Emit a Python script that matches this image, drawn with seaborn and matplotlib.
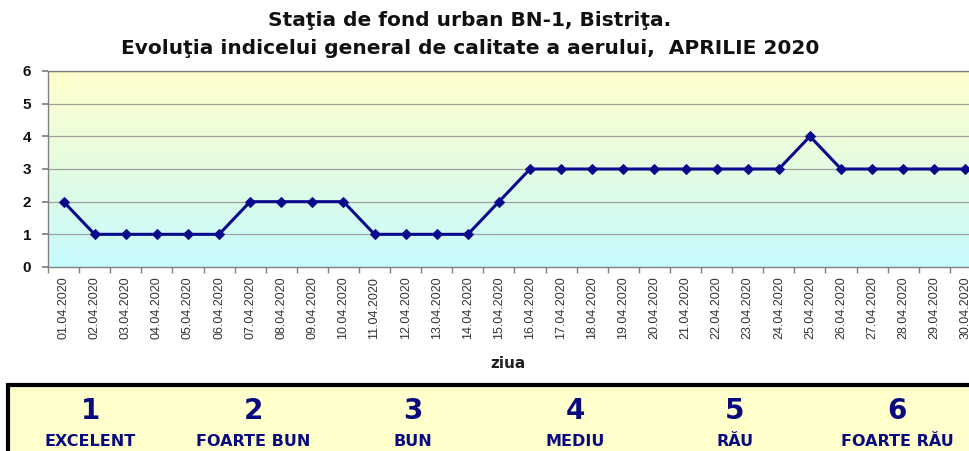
import numpy as np
import pandas as pd
import matplotlib
matplotlib.use("Agg")
import matplotlib.pyplot as plt
import seaborn as sns
from matplotlib.patches import Rectangle
from matplotlib.colors import LinearSegmentedColormap

sns.set_theme(style="white")
plt.rcParams['font.family'] = ['Liberation Sans', 'DejaVu Sans']

days = [f"{d:02d}.04.2020" for d in range(1, 31)]
values = [2, 1, 1, 1, 1, 1, 2, 2, 2, 2, 1, 1, 1, 1, 2, 3, 3, 3, 3, 3,
          3, 3, 3, 3, 4, 3, 3, 3, 3, 3]
y_ticks = [0, 1, 2, 3, 4, 5, 6]
legend_nums = ["1", "2", "3", "4", "5", "6"]
legend_labels = ["EXCELENT", "FOARTE BUN", "BUN", "MEDIU", "RĂU", "FOARTE RĂU"]

df = pd.DataFrame({"ziua": days, "indice": values})
df["pos"] = np.arange(len(days))

W, H = 969, 451
fig = plt.figure(figsize=(W / 100, H / 100), dpi=100)

# axes: left 48px, width 933px (extends beyond figure), top 71px, bottom 267px
ax = fig.add_axes([48 / W, 1 - 267 / H, 933 / W, (267 - 71) / H])

grad = np.linspace(0, 1, 256).reshape(-1, 1)
cmap = LinearSegmentedColormap.from_list("bg", ["#C6FBFF", "#E4FCE2", "#FFFFCC"])
ax.imshow(grad, aspect="auto", cmap=cmap, origin="lower",
          extent=[-0.5, 29.5, 0, 6], zorder=0)

for yv in y_ticks[1:]:
    ax.axhline(yv, color="#A0A0A0", lw=0.9, zorder=1)

sns.lineplot(data=df, x="pos", y="indice", ax=ax, color="#0A0A8C", lw=2.2,
             marker="D", markersize=5, markeredgecolor="#0A0A8C", zorder=3)

ax.set_xlim(-0.5, 29.5)
ax.set_ylim(0, 6)
ax.set_yticks(y_ticks)
ax.set_yticklabels([str(v) for v in y_ticks], fontsize=11, fontweight="bold",
                   color="#111111")
ax.set_xticks(df["pos"])
ax.set_xticklabels(days, rotation=90, fontsize=9, color="#333333")
ax.set_xticks(np.arange(-0.5, 30, 1), minor=True)
ax.tick_params(axis="x", which="major", length=0, pad=7)
ax.tick_params(axis="x", which="minor", length=4, color="#808080", direction="out", bottom=True)
ax.tick_params(axis="y", length=4, color="#808080", direction="out", left=True, pad=8)
ax.set_xlabel("ziua", fontsize=11, fontweight="bold", family="DejaVu Sans",
              va="center", color="#222222")
ax.xaxis.set_label_coords((508 - 48) / 933, -(363 - 267) / 196)
ax.set_ylabel("")
ax.spines["right"].set_visible(False)
for s in ["left", "bottom", "top"]:
    ax.spines[s].set_color("#808080")
    ax.spines[s].set_linewidth(1.0)

fig.text(470 / W, 1 - 21 / H, "Staţia de fond urban BN-1, Bistriţa.",
         ha="center", va="center", fontsize=14.5, fontweight="bold",
         family="DejaVu Sans", color="#111111")
fig.text(470 / W, 1 - 48 / H, "Evoluţia indicelui general de calitate a aerului,  APRILIE 2020",
         ha="center", va="center", fontsize=14.5, fontweight="bold",
         family="DejaVu Sans", color="#111111")

# legend box
box = Rectangle((8 / W, -0.05), 1.0, 1 - 385 / H + 0.05, transform=fig.transFigure,
                facecolor="#FFFFCC", edgecolor="black", lw=3, zorder=5)
fig.patches.append(box)
xs = [90, 253, 413, 575, 735, 897]
for x, n, lab in zip(xs, legend_nums, legend_labels):
    fig.text(x / W, 1 - 411 / H, n, ha="center", va="center", fontsize=20,
             fontweight="heavy", family="DejaVu Sans", color="#0A0A80", zorder=6)
    fig.text(x / W, 1 - 446 / H, lab, ha="center", va="baseline", fontsize=11.5,
             fontweight="heavy", family="DejaVu Sans", color="#0A0A80", zorder=6)

fig.savefig("out.png", dpi=100)
